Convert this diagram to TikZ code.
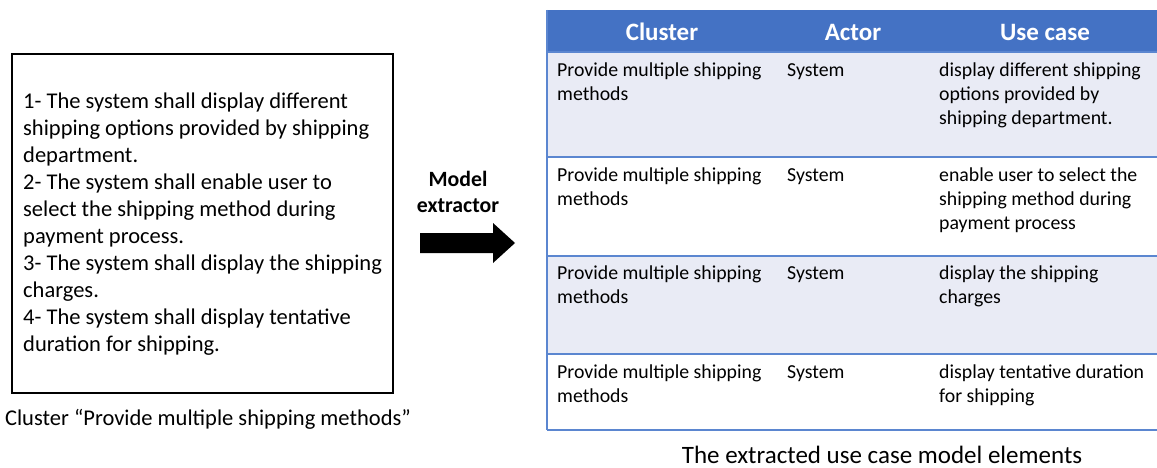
\documentclass[tikz,border=0pt]{standalone}
\usepackage{fontspec}
\setmainfont{Carlito}
\definecolor{hdrblue}{HTML}{4472C4}
\definecolor{rowtint}{HTML}{E9EBF5}
\definecolor{rule}{HTML}{5B86D0}
\tikzset{
  reqtext/.style={anchor=north west, inner sep=0pt, align=left, font=\fontsize{22.5}{27}\selectfont},
  celltext/.style={anchor=north west, inner sep=0pt, align=left, font=\fontsize{19.8}{24}\selectfont},
  hdrtext/.style={anchor=center, inner sep=0pt, text=white, font=\fontsize{25}{28}\selectfont\bfseries},
  caption/.style={anchor=center, inner sep=0pt},
}
\begin{document}
\begin{tikzpicture}[x=1pt,y=-1pt]
\useasboundingbox (0,0) rectangle (1157,468);
\clip (0,0) rectangle (1157,468);

% requirement box
\draw[line width=1.3pt] (12,54) rectangle (393,393);
\node[reqtext] (req) at (23,93) {1- The system shall display different\\
shipping options provided by shipping\\
department.\\
2- The system shall enable user to\\
select the shipping method during\\
payment process.\\
3- The system shall display the shipping\\
charges.\\
4- The system shall display tentative\\
duration for shipping.};
\node[caption, font=\fontsize{22.5}{26}\selectfont] (cap1) at (208,419) {Cluster “Provide multiple shipping methods”};

% extractor arrow
\node[anchor=center, inner sep=0pt, align=center, font=\fontsize{21.8}{26}\selectfont\bfseries] (extr) at (458,192) {Model\\extractor};
\fill (420,233) -- (493,233) -- (493,223) -- (515,243) -- (493,263) -- (493,253) -- (420,253) -- cycle;

% table rows
\fill[hdrblue] (547,10) rectangle (1160,52);
\fill[rowtint] (547,52) rectangle (1160,157);
\fill[white] (547,157) rectangle (1160,256);
\fill[rowtint] (547,256) rectangle (1160,354);
\fill[white] (547,354) rectangle (1160,430);
\draw[rule, line width=1.3pt] (547,52) -- (1160,52);
\draw[rule, line width=1.3pt] (547,157) -- (1160,157);
\draw[rule, line width=1.3pt] (547,256) -- (1160,256);
\draw[rule, line width=1.3pt] (547,354) -- (1160,354);
\draw[rule, line width=1.3pt] (547,430) -- (1160,430);
\draw[rule, line width=1.3pt] (547,10) -- (547,430);

% header
\node[hdrtext] (hcl) at (662,32) {Cluster};
\node[hdrtext] (hac) at (853,32) {Actor};
\node[hdrtext] (huc) at (1045,32) {Use case};

% row 1
\node[celltext] (c1) at (557,63) {Provide multiple shipping\\methods};
\node[celltext] (a1) at (787,63) {System};
\node[celltext] (u1) at (939,63) {display different shipping\\options provided by\\shipping department.};
% row 2
\node[celltext] (c2) at (557,168) {Provide multiple shipping\\methods};
\node[celltext] (a2) at (787,168) {System};
\node[celltext] (u2) at (939,168) {enable user to select the\\shipping method during\\payment process};
% row 3
\node[celltext] (c3) at (557,266) {Provide multiple shipping\\methods};
\node[celltext] (a3) at (787,266) {System};
\node[celltext] (u3) at (939,266) {display the shipping\\charges};
% row 4
\node[celltext] (c4) at (557,365) {Provide multiple shipping\\methods};
\node[celltext] (a4) at (787,365) {System};
\node[celltext] (u4) at (939,365) {display tentative duration\\for shipping};

\node[caption, font=\fontsize{25}{28}\selectfont] (cap2) at (882,454.5) {The extracted use case model elements};
\end{tikzpicture}
\end{document}
